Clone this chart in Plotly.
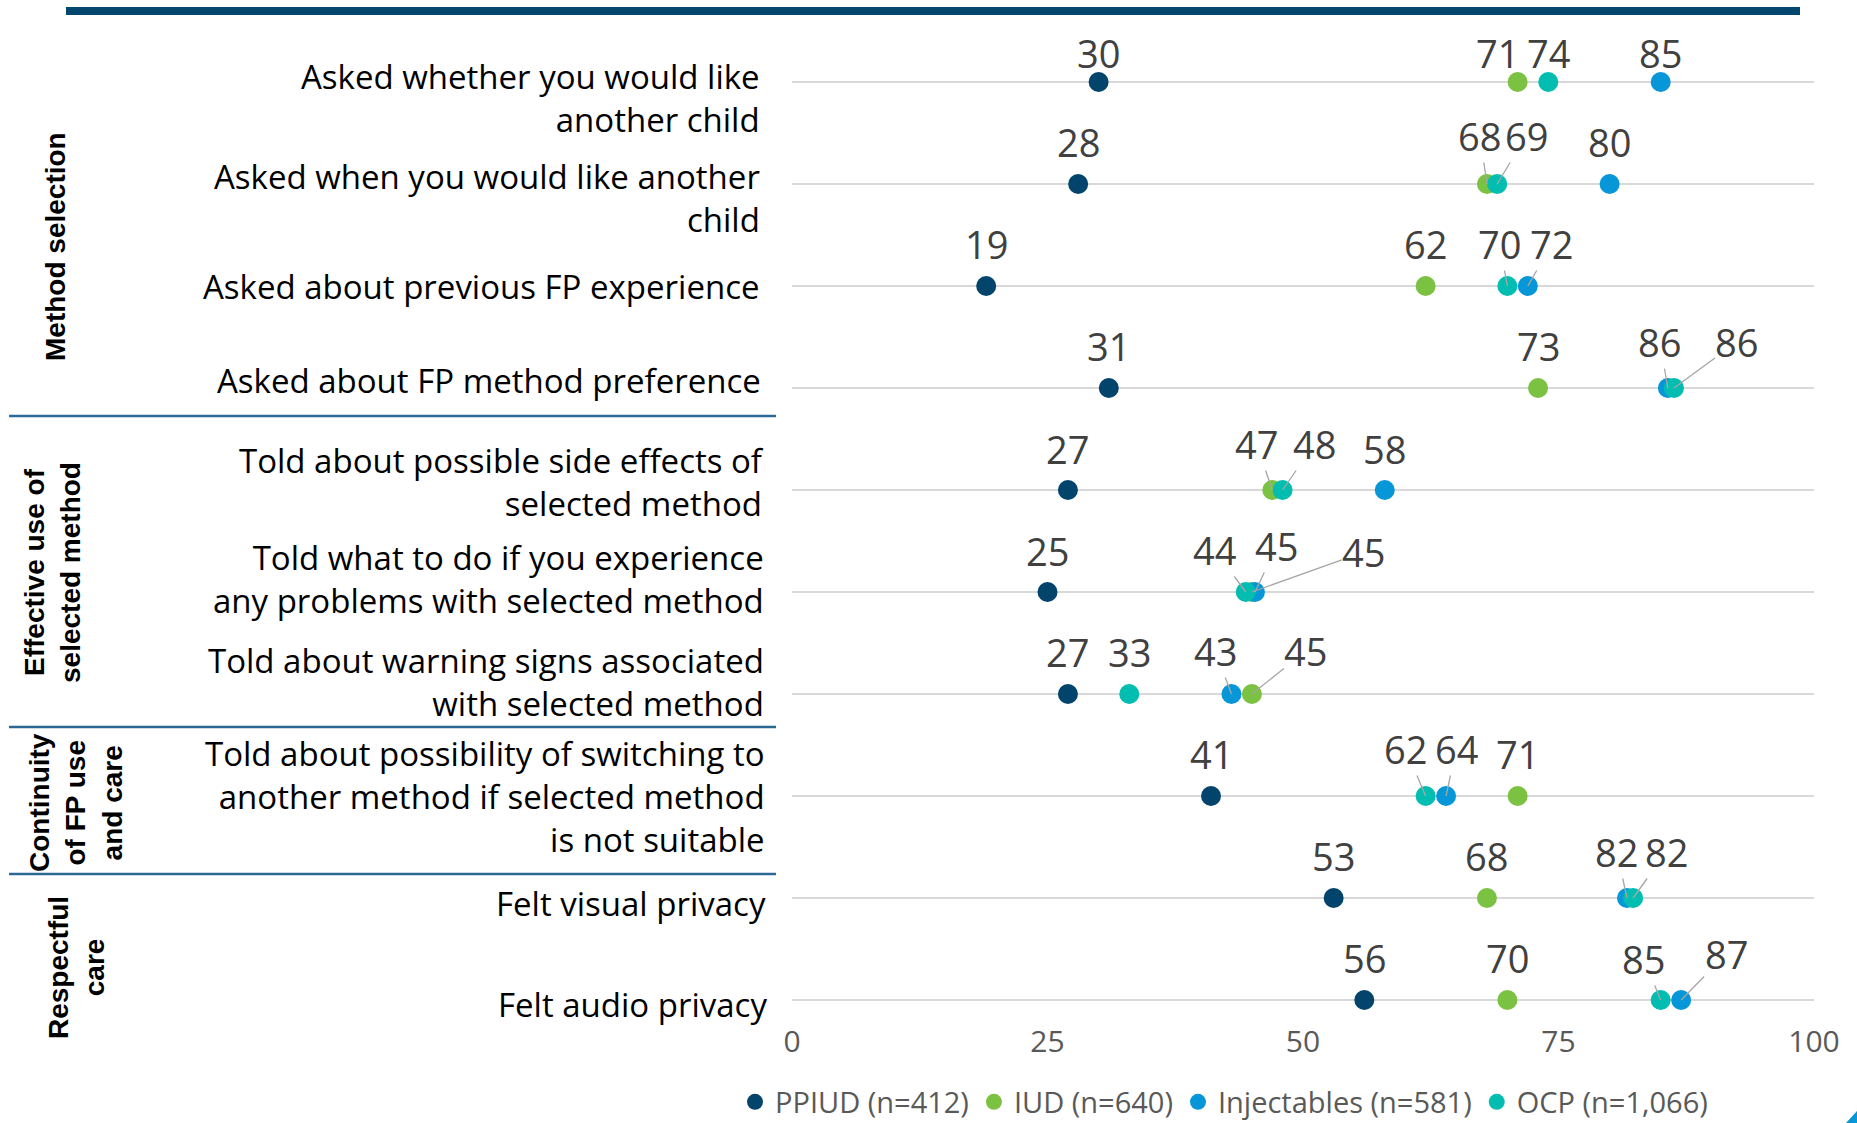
import plotly.graph_objects as go

# ---------------- data ----------------
categories = [
    "Asked whether you would like<br>another child",
    "Asked when you would like another<br>child",
    "Asked about previous FP experience",
    "Asked about FP method preference",
    "Told about possible side effects of<br>selected method",
    "Told what to do if you experience<br>any problems with selected method",
    "Told about warning signs associated<br>with selected method",
    "Told about possibility of switching to<br>another method if selected method<br>is not suitable",
    "Felt visual privacy",
    "Felt audio privacy",
]
groups = [
    "Method selection",
    "Effective use of<br>selected method",
    "Continuity<br>of FP use<br>and care",
    "Respectful<br>care",
]
series_names = ["PPIUD (n=412)", "IUD (n=640)", "Injectables (n=581)", "OCP (n=1,066)"]
ppiud = [30, 28, 19, 31, 27, 25, 27, 41, 53, 56]
iud = [71, 68, 62, 73, 47, 45, 45, 71, 68, 70]
injectables = [85, 80, 72, 85.7, 58, 45.3, 43, 64, 81.7, 87]
ocp = [74, 69, 70, 86.3, 48, 44.4, 33, 62, 82.3, 85]
x_ticks = [0, 25, 50, 75, 100]

# ---------------- styling / layout helpers ----------------
W, H = 1857, 1123
PL, PR, PT, PB = 792, 1814, 31, 1015   # plot area in pixels
ROW0, ROWSTEP = 82, 102


def px2x(px):
    return (px - PL) / (PR - PL)


def px2y(py):
    return (PB - py) / (PB - PT)


colors = ["#03446C", "#7BC142", "#0797D8", "#02BDB0"]
series = [ppiud, iud, injectables, ocp]

# label offsets per row per series: (dx px, dy-up px, leader line)
label_pos = [
    [(0, 29, False), (-20, 29, False), (0, 29, False), (0, 29, False)],
    [(0, 42, False), (-7, 48, True), (0, 42, False), (29, 48, True)],
    [(0, 42, False), (0, 42, False), (24, 42, True), (-8, 42, True)],
    [(0, 42, False), (0, 42, False), (-8, 46, True), (63, 46, True)],
    [(0, 41, False), (-16, 46, True), (0, 41, False), (32, 46, True)],
    [(0, 41, False), (112, 40, True), (22, 46, True), (-31, 42, True)],
    [(0, 42, False), (54, 43, True), (-16, 43, True), (0, 42, False)],
    [(0, 42, False), (0, 42, False), (10, 47, True), (-20, 47, True)],
    [(0, 42, False), (0, 42, False), (-10, 46, True), (33, 46, True)],
    [(0, 42, False), (0, 42, False), (45, 46, True), (-17, 41, True)],
]
# category label vertical shift (px down) and right edge (px)
cat_shift = [16, 14, 0, -8, -8, -13, -12, 0, 5, 4]
cat_right = [762, 762, 762, 763, 766, 766, 766, 767, 768, 769]

# group labels: center positions in px
group_pos = [(56, 247), (52, 573), (76, 803), (76, 968)]

rows = list(range(len(categories)))

fig = go.Figure()
for name, vals, col in zip(series_names, series, colors):
    fig.add_trace(go.Scatter(
        x=vals, y=rows, mode="markers", name=name,
        marker=dict(size=20, color=col, line=dict(width=0)),
        hoverinfo="skip",
    ))

annotations = []
label_font = dict(family="Open Sans", size=38, color="#404040")
for r in rows:
    for s, vals in enumerate(series):
        v = vals[r]
        dx, dy, lead = label_pos[r][s]
        txt = str(int(round(v)))
        if lead:
            annotations.append(dict(
                x=v, y=r, xref="x", yref="y", text=txt, showarrow=True,
                ax=dx, ay=-dy, arrowhead=0, arrowwidth=1.3, arrowcolor="#A6A6A6",
                standoff=0, font=label_font, borderpad=0,
            ))
        else:
            annotations.append(dict(
                x=v, y=r, xref="x", yref="y", text=txt, showarrow=False,
                xshift=dx, yshift=dy, xanchor="center", yanchor="middle",
                font=label_font,
            ))

cat_font = dict(family="Open Sans", size=33, color="#000000")
for r, cat in enumerate(categories):
    annotations.append(dict(
        x=px2x(cat_right[r]), y=r, xref="paper", yref="y", text=cat,
        showarrow=False, xanchor="right", yanchor="middle", align="right",
        yshift=-cat_shift[r], font=cat_font,
    ))

grp_font = dict(family="Liberation Sans", size=28, color="#000000", weight="bold")
for g, (cx, cy) in zip(groups, group_pos):
    annotations.append(dict(
        x=px2x(cx), y=px2y(cy), xref="paper", yref="paper", text=g,
        showarrow=False, textangle=-90, xanchor="center", yanchor="middle",
        align="center", font=grp_font,
    ))

shapes = [
    dict(type="rect", xref="paper", yref="paper",
         x0=px2x(66), x1=px2x(1800), y0=px2y(15), y1=px2y(7),
         fillcolor="#03466E", line=dict(width=0), layer="above"),
]
for yy in [416, 727, 874]:
    shapes.append(dict(type="line", xref="paper", yref="paper",
                       x0=px2x(9), x1=px2x(776), y0=px2y(yy), y1=px2y(yy),
                       line=dict(color="#2C6894", width=2.5)))
shapes.append(dict(type="path", xref="paper", yref="paper",
                   path=f"M {px2x(1846)},{px2y(1123)} L {px2x(1857)},{px2y(1111)} L {px2x(1857)},{px2y(1123)} Z",
                   fillcolor="#0797D8", line=dict(width=0)))

fig.update_layout(
    width=W, height=H,
    margin=dict(l=PL, r=W - PR, t=PT, b=H - PB, pad=0, autoexpand=False),
    paper_bgcolor="white", plot_bgcolor="white",
    xaxis=dict(range=[0, 100], tickvals=x_ticks, showgrid=False, zeroline=False,
               showline=False, ticks="", ticklabelstandoff=6, automargin=False,
               tickfont=dict(family="Open Sans", size=30, color="#595959")),
    yaxis=dict(range=[-0.5 + (PB - PT) / ROWSTEP, -0.5], tickvals=rows,
               showticklabels=False, showgrid=True, gridcolor="#D9D9D9",
               gridwidth=2, zeroline=False, showline=False, automargin=False),
    showlegend=True,
    legend=dict(orientation="h", x=px2x(1224), xanchor="center",
                y=px2y(1102), yanchor="middle",
                font=dict(family="Open Sans", size=29, color="#595959"),
                itemwidth=30, bgcolor="rgba(0,0,0,0)"),
    annotations=annotations,
    shapes=shapes,
)

fig.write_html(
    "out.html",
    config={"displayModeBar": False},
    post_script="document.body.style.margin='0px';document.body.style.overflow='hidden';",
)
